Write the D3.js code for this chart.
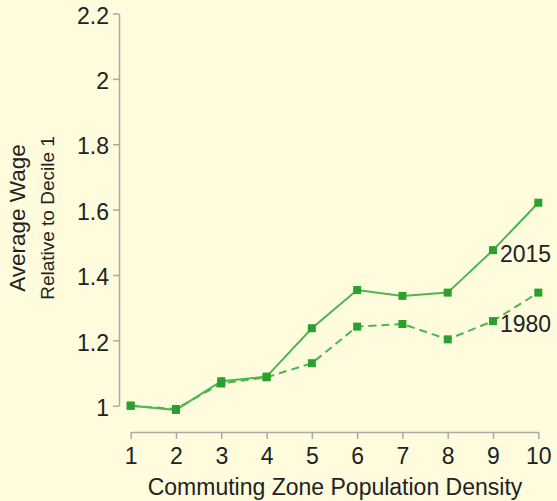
<!DOCTYPE html>
<html>
<head>
<meta charset="utf-8">
<script src="https://cdn.jsdelivr.net/npm/d3@7"></script>
<style>
  body { margin: 0; background: #fefcdc; }
  svg { display: block; }
  text { font-family: "Liberation Sans", Arial, sans-serif; fill: #222; }
</style>
</head>
<body>
<div id="chart"></div>
<script>
const deciles = [1, 2, 3, 4, 5, 6, 7, 8, 9, 10];
const wage2015 = [1.0, 0.987, 1.075, 1.089, 1.237, 1.354, 1.336, 1.346, 1.476, 1.621];
const wage1980 = [1.0, 0.99, 1.068, 1.087, 1.130, 1.242, 1.250, 1.203, 1.259, 1.346];
const yTicks = [1, 1.2, 1.4, 1.6, 1.8, 2, 2.2];

const W = 557, H = 501;
const markerColor = '#2ba02f';
const lineColor = '#4db552';
const axisColor = '#aaaaa2';

const svg = d3.select('#chart')
  .append('svg')
  .attr('width', W)
  .attr('height', H);

const x = d3.scaleLinear().domain([1, 10]).range([130.7, 538.3]);
const y = d3.scaleLinear().domain([1, 2.2]).range([405.7, 13.5]);

// y axis
const yAxis = svg.append('g')
  .attr('transform', 'translate(119,0)')
  .call(d3.axisLeft(y).tickValues(yTicks).tickSize(6).tickSizeOuter(0).tickPadding(4)
    .tickFormat(d => String(+d.toFixed(1))));

// x axis
const xAxis = svg.append('g')
  .attr('transform', 'translate(0,432)')
  .call(d3.axisBottom(x).tickValues(deciles).tickSize(7).tickSizeOuter(0).tickPadding(9)
    .tickFormat(d3.format('d')));

[yAxis, xAxis].forEach(g => {
  g.select('.domain').attr('stroke', axisColor).attr('stroke-width', 1.5);
  g.selectAll('.tick line').attr('stroke', axisColor).attr('stroke-width', 1.5);
  g.selectAll('.tick text')
    .style('font-size', '23px')
    .style('font-family', '"Liberation Sans", Arial, sans-serif')
    .attr('fill', '#222');
});
yAxis.selectAll('.tick text').attr('dy', '0.42em');

// axis titles
svg.append('text')
  .attr('x', 335)
  .attr('y', 495)
  .attr('text-anchor', 'middle')
  .style('font-size', '23px')
  .text('Commuting Zone Population Density');

svg.append('text')
  .attr('transform', 'translate(25,218) rotate(-90)')
  .attr('text-anchor', 'middle')
  .style('font-size', '22.5px')
  .text('Average Wage');

svg.append('text')
  .attr('transform', 'translate(54,218) rotate(-90)')
  .attr('text-anchor', 'middle')
  .style('font-size', '19px')
  .text('Relative to Decile 1');

// series
const series = [
  { name: '1980', values: wage1980, dash: '8,5', dy: 11 },
  { name: '2015', values: wage2015, dash: null, dy: 12 }
];

const line = d3.line()
  .x((d, i) => x(deciles[i]))
  .y(d => y(d));

series.forEach(s => {
  svg.append('path')
    .datum(s.values)
    .attr('d', line)
    .attr('fill', 'none')
    .attr('stroke', lineColor)
    .attr('stroke-width', 2)
    .attr('stroke-dasharray', s.dash);

  svg.selectAll(null)
    .data(s.values)
    .enter().append('rect')
    .attr('x', (d, i) => x(deciles[i]) - 4)
    .attr('y', d => y(d) - 4)
    .attr('width', 8)
    .attr('height', 8)
    .attr('fill', markerColor);

  svg.append('text')
    .attr('x', x(deciles[8]) + 7)
    .attr('y', y(s.values[8]) + s.dy)
    .style('font-size', '23px')
    .text(s.name);
});
</script>
</body>
</html>
